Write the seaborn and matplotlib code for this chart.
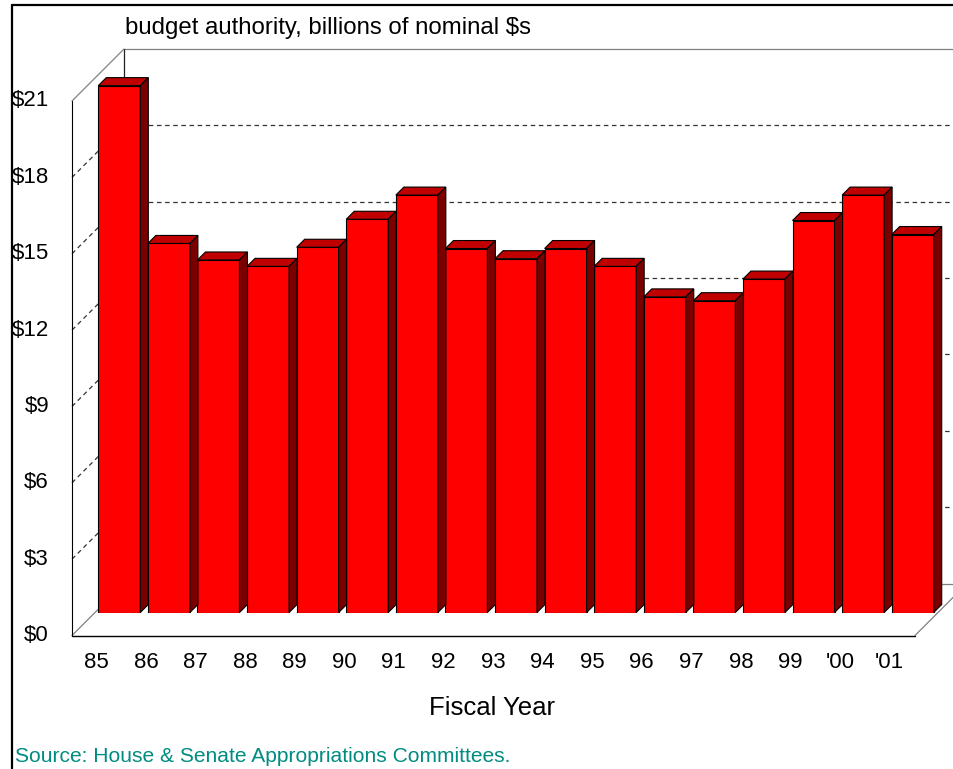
import matplotlib
matplotlib.use("Agg")
import matplotlib.pyplot as plt
import seaborn as sns
import pandas as pd
from matplotlib.transforms import ScaledTranslation
from matplotlib.patches import Polygon
from matplotlib.lines import Line2D

# ---------------- data ----------------
years = ["85", "86", "87", "88", "89", "90", "91", "92", "93", "94",
         "95", "96", "97", "98", "99", "'00", "'01"]
authority = [20.7, 14.5, 13.85, 13.6, 14.35, 15.45, 16.4, 14.3, 13.9, 14.3,
             13.6, 12.4, 12.25, 13.1, 15.4, 16.4, 14.85]
y_ticks = [0, 3, 6, 9, 12, 15, 18, 21]
y_tick_labels = ["$0", "$3", "$6", "$9", "$12", "$15", "$18", "$21"]
title_text = "budget authority, billions of nominal $s"
x_label = "Fiscal Year"
source_text = "Source: House & Senate Appropriations Committees."

# ---------------- style ----------------
W, H, DPI = 954, 769, 100
sns.set_theme(style="white")
plt.rcParams["font.family"] = ["Liberation Sans", "DejaVu Sans"]
plt.rcParams["text.color"] = "black"

fig = plt.figure(figsize=(W / DPI, H / DPI), dpi=DPI)
fig.patch.set_facecolor("white")

# bar plane (pixels from top-left)
L, R, B, T = 95, 938, 612.5, 78
ax = fig.add_axes([L / W, 1 - B / H, (R - L) / W, (B - T) / H])
XMIN, XMAX, YMAX = -0.49, 16.51, 21
ppx = (R - L) / (XMAX - XMIN)
ppy = (B - T) / YMAX

df = pd.DataFrame({"year": years, "value": authority})
sns.barplot(data=df, x="year", y="value", color="#FF0000", saturation=1,
            width=42 / ppx, edgecolor="black", linewidth=0.8, ax=ax, zorder=3)
ax.set_xlim(XMIN, XMAX)
ax.set_ylim(0, YMAX)
ax.axis("off")


def shift(dx_px, dy_px, base=None):
    base = ax.transData if base is None else base
    return base + ScaledTranslation(dx_px / DPI, dy_px / DPI, fig.dpi_scale_trans)


front_t = shift(-23, -23)
back_t = shift(29, 29)
DEPTH = 52  # front -> back offset, px
bdx, bdy = DEPTH / ppx, DEPTH / ppy

grid_kw = dict(color="#333333", lw=0.9, linestyle=(0, (3.6, 2.9)), clip_on=False, zorder=0.5)
wall_kw = dict(color="#808080", lw=0.9, clip_on=False, zorder=0.6)

# back wall
for v in y_ticks[1:-1]:
    ax.plot([XMIN, XMAX + 1], [v, v], transform=back_t, **grid_kw)
ax.plot([XMIN, XMAX + 1], [YMAX, YMAX], transform=back_t, **wall_kw)
ax.plot([XMIN, XMAX + 1], [0, 0], transform=back_t, **wall_kw)
ax.plot([XMIN, XMIN], [0, YMAX], transform=back_t, color="#202020", lw=0.9,
        clip_on=False, zorder=0.6)

# left side wall
for v in y_ticks[1:-1]:
    ax.plot([XMIN, XMIN + bdx], [v, v + bdy], transform=front_t, **grid_kw)
ax.plot([XMIN, XMIN + bdx], [YMAX, YMAX + bdy], transform=front_t, **wall_kw)
ax.plot([XMIN, XMIN + bdx], [0, bdy], transform=front_t, **wall_kw)
ax.plot([XMIN, XMIN], [0, YMAX], transform=front_t, color="black", lw=0.8,
        clip_on=False, zorder=0.7)

# floor
ax.plot([XMIN, XMAX], [0, 0], transform=front_t, color="black", lw=1.0,
        clip_on=False, zorder=4)
ax.plot([XMAX, XMAX + bdx], [0, bdy], transform=front_t, **wall_kw)

# 3D bar faces
d_x, d_y = 8 / ppx, 8 / ppy
for p in list(ax.patches):
    x0 = p.get_x()
    x1 = x0 + p.get_width()
    h = p.get_height()
    top = Polygon([(x0, h), (x1, h), (x1 + d_x, h + d_y), (x0 + d_x, h + d_y)],
                  closed=True, facecolor="#C00000", edgecolor="black",
                  linewidth=0.8, zorder=3, clip_on=False)
    side = Polygon([(x1, 0), (x1, h), (x1 + d_x, h + d_y), (x1 + d_x, d_y)],
                   closed=True, facecolor="#7A0000", edgecolor="black",
                   linewidth=0.8, zorder=3, clip_on=False)
    ax.add_patch(top)
    ax.add_patch(side)

# y tick labels (front plane)
for v, lab in zip(y_ticks, y_tick_labels):
    ax.text(XMIN, v, lab, transform=shift(-23, 0, front_t), ha="right",
            va="center", fontsize=16, color="black", clip_on=False)

# x tick labels (front plane)
for i, yr in enumerate(years):
    ax.text(i, 0, yr, transform=shift(0, -27, front_t), ha="center",
            va="center", fontsize=16, color="black", clip_on=False)

# texts
fig.text(492 / W, 1 - 708 / H, x_label, ha="center", va="center",
         fontsize=18.5, color="black")
fig.text(125 / W, 1 - 28 / H, title_text, ha="left", va="center",
         fontsize=17.3, color="black")
fig.text(15 / W, 1 - 757 / H, source_text, ha="left", va="center",
         fontsize=15.1, color="#008C80")

# outer frame
fig.add_artist(Line2D([12.5 / W, 12.5 / W], [0, 1 - 5 / H], color="black",
                      lw=1.6, transform=fig.transFigure))
fig.add_artist(Line2D([12.5 / W, 1], [1 - 5 / H, 1 - 5 / H], color="black",
                      lw=1.6, transform=fig.transFigure))

fig.savefig("out.png", dpi=DPI, facecolor="white")
